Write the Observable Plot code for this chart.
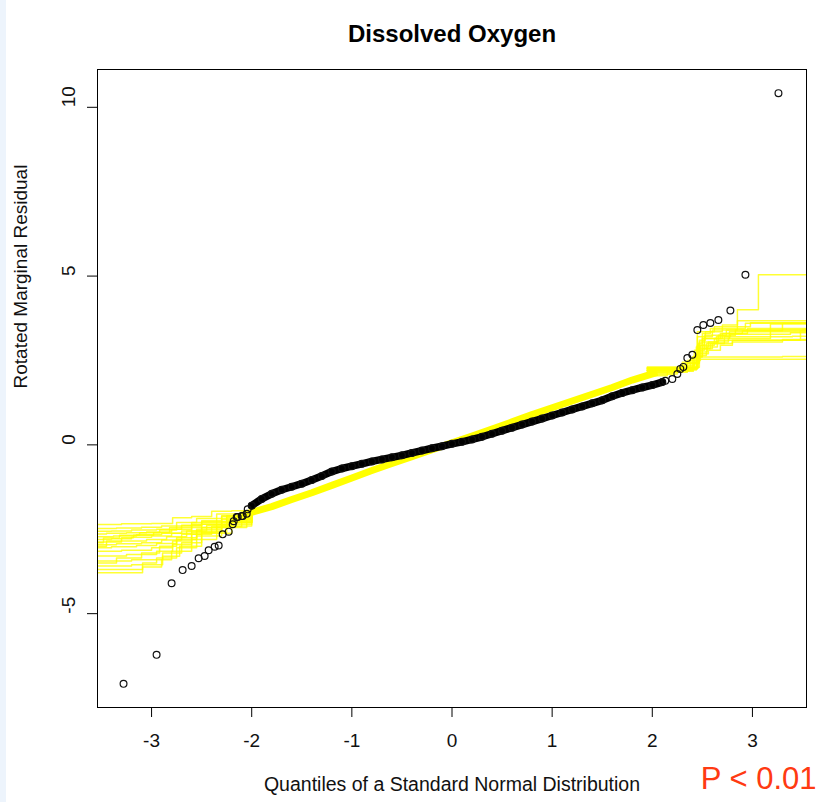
<!DOCTYPE html>
<html>
<head>
<meta charset="utf-8">
<script src="https://cdn.jsdelivr.net/npm/d3@7"></script>
<script src="https://cdn.jsdelivr.net/npm/@observablehq/plot@0.6"></script>
<style>
  html, body { margin: 0; padding: 0; background: #ffffff; }
  #wrap { position: relative; width: 816px; height: 802px; overflow: hidden; }
  #strip { position: absolute; left: 0; top: 0; width: 6px; height: 802px; background: #edf4fc; }
  #chart { position: absolute; left: 0; top: 0; }
</style>
</head>
<body>
<div id="wrap"><div id="chart"></div><div id="strip"></div></div>
<script>
// ---- tick labels ----
const xTicks = [-3, -2, -1, 0, 1, 2, 3];
const yTicks = [-5, 0, 5, 10];

// ---- observed residuals (black circles) ----
const blackLeftX = [-3.28, -2.95, -2.80, -2.69, -2.60, -2.53, -2.47, -2.43, -2.37, -2.33, -2.29, -2.23, -2.19, -2.18, -2.15, -2.14, -2.10, -2.09, -2.05, -2.04];
const blackLeftY = [-7.08, -6.22, -4.10, -3.71, -3.59, -3.36, -3.29, -3.12, -3.02, -2.98, -2.65, -2.57, -2.35, -2.26, -2.14, -2.14, -2.11, -2.11, -2.04, -1.91];

const blackBandX = [-2.0, -1.9, -1.8, -1.7, -1.6, -1.5, -1.4, -1.3, -1.2, -1.1,
                    -1.0, -0.9, -0.8, -0.7, -0.6, -0.5, -0.4, -0.3, -0.2, -0.1,
                     0.0,  0.1,  0.2,  0.3,  0.4,  0.5,  0.6,  0.7,  0.8,  0.9,
                     1.0,  1.1,  1.2,  1.3,  1.4,  1.5,  1.6,  1.7,  1.8,  1.9,
                     2.0,  2.1];
const blackBandY = [-1.80, -1.60, -1.45, -1.33, -1.24, -1.15, -1.04, -0.92, -0.79, -0.70,
                    -0.63, -0.56, -0.49, -0.43, -0.37, -0.31, -0.24, -0.17, -0.10, -0.04,
                     0.03,  0.09,  0.16,  0.24,  0.33,  0.42,  0.51,  0.60,  0.69,  0.78,
                     0.87,  0.96,  1.05,  1.14,  1.23,  1.32,  1.44,  1.54,  1.62,  1.70,
                     1.77,  1.86];

const blackRightX = [2.13, 2.20, 2.25, 2.28, 2.31, 2.35, 2.40, 2.45, 2.51, 2.58, 2.66, 2.78, 2.93, 3.26];
const blackRightY = [1.90, 1.95, 2.10, 2.25, 2.31, 2.57, 2.67, 3.40, 3.55, 3.61, 3.70, 3.98, 5.04, 10.42];

// ---- simulated envelope (yellow) ----
const yellowBandX = [-2.1, -1.8, -1.6, -1.4, -1.2, -1.0, -0.8, -0.6, -0.4, -0.2, 0.0, 0.2, 0.4, 0.6, 0.8, 1.0, 1.2, 1.4, 1.6, 1.8, 2.05];
const yellowBandY = [-2.08, -1.83, -1.62, -1.42, -1.20, -0.98, -0.76, -0.55, -0.35, -0.14, 0.06, 0.26, 0.47, 0.68, 0.90, 1.10, 1.30, 1.50, 1.70, 1.92, 2.15];

// left tail step lines: [x, y] pairs
const yellowLeftTails = [
  [[-3.6, -2.36], [-3.3, -2.34], [-3.0, -2.33], [-2.79, -2.16], [-2.6, -2.12], [-2.4, -1.97], [-2.2, -1.95], [-2.0, -1.90]],
  [[-3.6, -2.48], [-3.35, -2.46], [-3.1, -2.44], [-2.9, -2.40], [-2.75, -2.30], [-2.55, -2.18], [-2.35, -2.05], [-2.0, -1.97]],
  [[-3.6, -2.56], [-3.4, -2.55], [-3.2, -2.52], [-2.95, -2.50], [-2.7, -2.38], [-2.5, -2.25], [-2.3, -2.10], [-2.0, -2.00]],
  [[-3.6, -2.64], [-3.45, -2.62], [-3.25, -2.60], [-3.05, -2.58], [-2.8, -2.50], [-2.6, -2.35], [-2.35, -2.18], [-2.0, -2.03]],
  [[-3.6, -2.72], [-3.38, -2.70], [-3.15, -2.66], [-2.9, -2.62], [-2.7, -2.55], [-2.5, -2.35], [-2.25, -2.15], [-2.0, -2.05]],
  [[-3.6, -2.80], [-3.4, -2.78], [-3.2, -2.74], [-3.0, -2.70], [-2.8, -2.62], [-2.6, -2.45], [-2.3, -2.22], [-2.0, -2.06]],
  [[-3.6, -2.88], [-3.3, -2.85], [-3.05, -2.80], [-2.85, -2.72], [-2.65, -2.55], [-2.45, -2.38], [-2.2, -2.20], [-2.0, -2.08]],
  [[-3.6, -2.96], [-3.35, -2.93], [-3.1, -2.90], [-2.9, -2.82], [-2.7, -2.65], [-2.5, -2.45], [-2.25, -2.25], [-2.0, -2.10]],
  [[-3.6, -3.05], [-3.4, -3.02], [-3.15, -2.98], [-2.95, -2.92], [-2.75, -2.75], [-2.55, -2.50], [-2.3, -2.28], [-2.0, -2.10]],
  [[-3.6, -3.15], [-3.3, -3.12], [-3.0, -3.05], [-2.79, -2.85], [-2.6, -2.60], [-2.35, -2.35], [-2.0, -2.12]],
  [[-3.6, -3.29], [-3.25, -3.25], [-2.95, -3.15], [-2.79, -2.95], [-2.6, -2.65], [-2.4, -2.42], [-2.1, -2.18], [-2.0, -2.12]],
  [[-3.6, -3.44], [-3.2, -3.40], [-2.89, -3.20], [-2.7, -2.90], [-2.5, -2.58], [-2.25, -2.30], [-2.0, -2.14]],
  [[-3.6, -3.59], [-3.2, -3.55], [-2.89, -3.30], [-2.72, -3.00], [-2.5, -2.62], [-2.2, -2.30], [-2.0, -2.15]],
  [[-3.6, -3.69], [-3.09, -3.50], [-2.95, -3.35], [-2.75, -3.05], [-2.55, -2.70], [-2.3, -2.40], [-2.0, -2.16]],
  [[-3.6, -3.79], [-3.09, -3.62], [-2.9, -3.40], [-2.8, -3.15], [-2.6, -2.80], [-2.35, -2.45], [-2.05, -2.20], [-2.0, -2.17]],
  [[-3.6, -3.50], [-3.35, -3.35], [-3.1, -3.20], [-2.92, -3.00], [-2.75, -2.80], [-2.55, -2.55], [-2.3, -2.30], [-2.0, -2.10]],
  [[-3.6, -3.00], [-3.45, -2.85], [-3.3, -2.75], [-3.18, -2.68], [-2.98, -2.60], [-2.82, -2.45], [-2.6, -2.30], [-2.3, -2.12], [-2.0, -2.02]],
  [[-3.6, -2.90], [-3.48, -2.76], [-3.32, -2.68], [-3.12, -2.60], [-2.92, -2.52], [-2.75, -2.40], [-2.5, -2.28], [-2.25, -2.10], [-2.0, -2.00]]
];

// right tail step lines: [x, y] pairs
const yellowRightTails = [
  [[1.95, 2.05], [2.15, 2.20], [2.30, 2.35], [2.42, 2.45], [2.46, 2.54], [3.6, 2.54]],
  [[1.95, 2.10], [2.20, 2.28], [2.35, 2.42], [2.47, 2.60], [3.30, 2.62], [3.6, 2.62]],
  [[1.95, 2.10], [2.25, 2.30], [2.45, 2.75], [2.55, 2.90], [2.65, 3.10], [3.6, 3.10]],
  [[1.95, 2.15], [2.30, 2.40], [2.46, 2.85], [2.58, 3.00], [2.72, 3.20], [3.40, 3.22], [3.6, 3.22]],
  [[1.95, 2.15], [2.35, 2.50], [2.48, 2.95], [2.62, 3.15], [2.77, 3.35], [3.6, 3.35]],
  [[1.95, 2.20], [2.30, 2.45], [2.47, 3.05], [2.66, 3.25], [2.83, 3.40], [3.50, 3.42], [3.6, 3.42]],
  [[1.95, 2.20], [2.40, 2.60], [2.50, 3.15], [2.70, 3.30], [2.95, 3.45], [3.6, 3.45]],
  [[1.95, 2.25], [2.42, 2.80], [2.52, 3.25], [2.74, 3.40], [3.18, 3.58], [3.6, 3.58]],
  [[1.95, 2.25], [2.45, 3.20], [2.60, 3.40], [2.85, 3.68], [3.6, 3.68]],
  [[1.95, 2.30], [2.45, 3.35], [2.70, 3.55], [2.85, 4.00], [3.06, 5.04], [3.6, 5.04]],
  [[1.95, 2.20], [2.38, 2.55], [2.46, 2.70], [2.56, 2.80], [2.68, 2.95], [2.80, 3.05], [3.30, 3.12], [3.6, 3.12]],
  [[1.95, 2.25], [2.44, 2.65], [2.54, 3.00], [2.64, 3.20], [2.78, 3.28], [3.38, 3.32], [3.6, 3.32]],
  [[1.95, 2.28], [2.46, 3.00], [2.50, 3.30], [2.58, 3.45], [2.93, 3.60], [3.6, 3.60]],
  [[1.95, 2.30], [2.47, 3.10], [2.53, 3.35], [2.62, 3.50], [2.98, 3.62], [3.6, 3.62]],
  [[1.95, 2.22], [2.44, 2.90], [2.56, 3.05], [2.76, 3.15], [3.18, 3.40], [3.6, 3.40]],
  [[1.95, 2.18], [2.41, 2.62], [2.50, 2.85], [2.60, 3.00], [2.80, 3.10], [3.48, 3.38], [3.6, 3.38]],
  [[1.95, 2.26], [2.45, 2.95], [2.52, 3.15], [2.68, 3.30], [2.90, 3.38], [3.30, 3.60], [3.6, 3.60]]
];

// ---- build tables ----
const zip = (xs, ys) => xs.map((x, i) => ({x, y: ys[i]}));
const blackLeft = zip(blackLeftX, blackLeftY);
const blackBand = zip(blackBandX, blackBandY);
const blackRight = zip(blackRightX, blackRightY);
const blackAll = [...blackLeft, ...blackBand, ...blackRight];
const yellowBand = zip(yellowBandX, yellowBandY);
const tails = [...yellowLeftTails, ...yellowRightTails].flatMap((s, k) => s.map(([x, y]) => ({x, y, k})));

const font = "'Liberation Sans', Arial, Helvetica, sans-serif";
const ink = "#000000";

const plot = Plot.plot({
  width: 816,
  height: 802,
  marginLeft: 97,
  marginRight: 10,
  marginTop: 69,
  marginBottom: 95,
  style: {fontFamily: font, background: "transparent", color: "#111"},
  x: {domain: [-3.54, 3.54], label: null},
  y: {domain: [-7.78, 11.12], label: null},
  marks: [
    // envelope
    Plot.line(tails, {x: "x", y: "y", z: "k", curve: "step-after", stroke: "#ffff00", strokeWidth: 1.5, strokeOpacity: 0.8, clip: true}),
    Plot.line(yellowBand, {x: "x", y: "y", stroke: "#ffff00", strokeWidth: 7, strokeLinecap: "butt"}),
    // observed
    Plot.line(blackBand, {x: "x", y: "y", stroke: "#000", strokeWidth: 7.5, strokeLinecap: "round"}),
    Plot.dot(blackAll, {x: "x", y: "y", r: 3.4, stroke: "#111", strokeWidth: 1.2, fill: "none"}),
    // frame and axes
    Plot.frame({stroke: ink, strokeWidth: 1}),
    Plot.axisX({ticks: xTicks, tickSize: 10, tickPadding: 16, fontSize: 19, tickFormat: d => String(d), label: null, stroke: ink}),
    Plot.axisY({ticks: yTicks, tickSize: 10, tickFormat: () => "", label: null, stroke: ink}),
    Plot.text(yTicks, {y: d => d, frameAnchor: "left", dx: -29, rotate: -90, text: d => String(d), fontSize: 19, fill: "#111"}),
    // titles
    Plot.text(["Dissolved Oxygen"], {frameAnchor: "top", dy: -45, text: d => d, fontSize: 24, fontWeight: "bold", fill: "#000"}),
    Plot.text(["Quantiles of a Standard Normal Distribution"], {frameAnchor: "bottom", dy: 83, text: d => d, fontSize: 19.5, fill: "#111"}),
    Plot.text(["Rotated Marginal Residual"], {frameAnchor: "left", dx: -77, rotate: -90, text: d => d, fontSize: 19, fill: "#111"}),
    Plot.text(["P < 0.01"], {frameAnchor: "bottom-right", dx: 10, dy: 81, textAnchor: "end", text: d => d, fontSize: 31, fill: "#ff3a12"})
  ]
});
document.getElementById("chart").appendChild(plot);
</script>
</body>
</html>
